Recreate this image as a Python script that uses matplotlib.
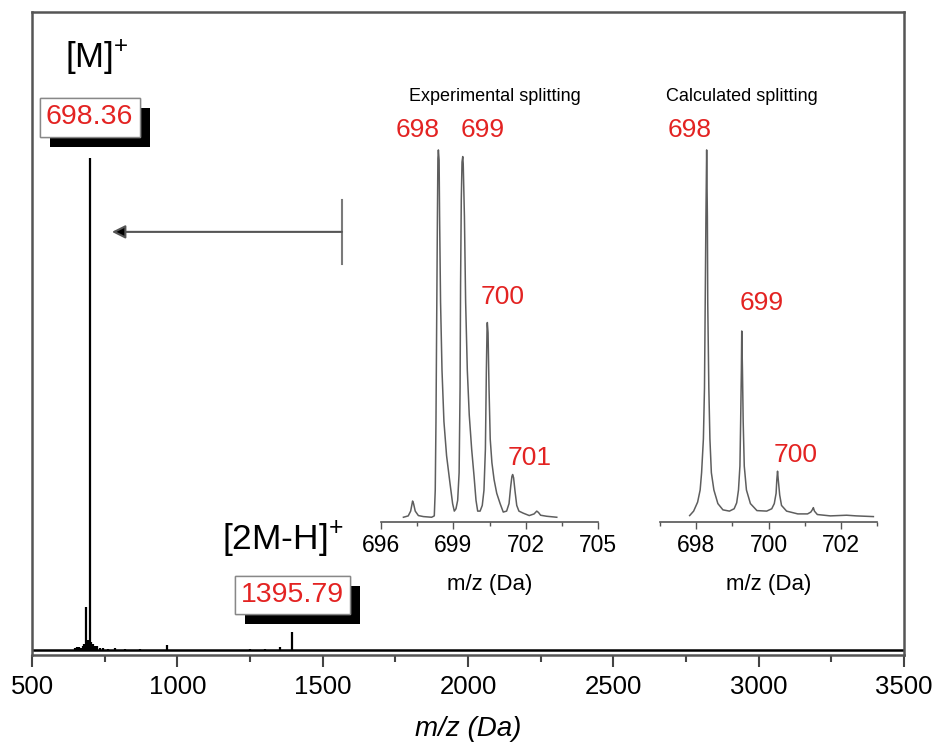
import matplotlib
matplotlib.use("Agg")
import matplotlib.pyplot as plt
import matplotlib.patheffects as pe
from matplotlib.ticker import MultipleLocator

plt.rcParams['font.family'] = ['Liberation Sans', 'DejaVu Sans']
plt.rcParams['mathtext.fontset'] = 'custom'
plt.rcParams['mathtext.rm'] = 'Liberation Sans'
plt.rcParams['mathtext.it'] = 'Liberation Sans:italic'

RED = '#e32322'
GREY = '#5e5e5e'

# full MALDI spectrum, stick peaks (m/z, relative intensity)
full_mz = [648, 654, 662, 668, 674, 680, 686, 692, 698.36, 704, 711, 716, 722,
           733, 745, 760, 786, 820, 870, 963, 1250, 1300, 1353, 1395.79]
full_int = [0.4, 0.7, 0.6, 0.5, 0.9, 1.3, 8.7, 2.0, 100, 1.6, 1.2, 0.9, 0.8,
            0.5, 0.4, 0.3, 0.5, 0.3, 0.2, 1.0, 0.2, 0.3, 0.6, 3.7]

# experimental isotope splitting (profile)
exp_mz = [696.93, 697.13, 697.23, 697.29, 697.31, 697.35, 697.42, 697.55, 697.76,
          698.10, 698.21, 698.25, 698.28, 698.31, 698.34, 698.36, 698.38, 698.41,
          698.43, 698.47, 698.53, 698.61, 698.72, 698.86, 698.97, 699.04, 699.11,
          699.18, 699.24, 699.28, 699.30, 699.33, 699.36, 699.39, 699.41, 699.46,
          699.51, 699.58, 699.66, 699.76, 699.86, 699.94, 700.01, 700.11, 700.20,
          700.27, 700.33, 700.37, 700.40, 700.41, 700.44, 700.48, 700.53, 700.60,
          700.69, 700.80, 700.94, 701.07, 701.21, 701.31, 701.38, 701.43, 701.46,
          701.50, 701.56, 701.63, 701.72, 701.90, 702.15, 702.35, 702.46, 702.53,
          702.62, 702.87, 703.29]
exp_int = [0.19, 0.56, 1.86, 3.9, 4.6, 3.9, 1.86, 0.65, 0.37,
           0.19, 0.56, 7.6, 26.2, 54.1, 82.0, 97.7, 100, 97.2,
           81.9, 58.7, 40.1, 26.2, 16.9, 9.5, 3.9, 1.86, 2.5,
           4.8, 12.3, 35.5, 63.3, 86.5, 96.7, 98.2, 96.3, 81.9,
           58.7, 40.1, 28.0, 18.7, 11.3, 4.8, 1.86, 1.86, 3.4,
           7.5, 18.7, 40.1, 52.2, 53.1, 50.3, 35.3, 21.4, 15.0,
           10.4, 6.7, 3.9, 1.6, 1.86, 3.9, 8.6, 11.3, 11.8,
           10.9, 7.2, 3.4, 1.86, 1.3, 0.65, 1.1, 1.86, 1.5,
           0.74, 0.46, 0.19]
exp_labels = ['698', '699', '700', '701']
exp_label_x = [697.53, 700.23, 701.06, 702.18]
exp_label_y = [105.4, 105.4, 60.0, 16.3]

# calculated isotope splitting
calc_mz = [697.82, 697.93, 698.04, 698.11, 698.15, 698.20, 698.23, 698.25, 698.27,
           698.29, 698.31, 698.32, 698.35, 698.38, 698.42, 698.49, 698.60, 698.74,
           698.92, 699.05, 699.12, 699.17, 699.21, 699.23, 699.25, 699.26, 699.28,
           699.30, 699.33, 699.39, 699.50, 699.68, 699.95, 700.09, 700.16, 700.21,
           700.23, 700.25, 700.27, 700.31, 700.36, 700.50, 700.81, 701.08, 701.17,
           701.23, 701.24, 701.27, 701.35, 701.71, 702.16, 702.43, 702.90]
calc_int = [0.65, 1.86, 4.3, 7.6, 12.3, 21.5, 35.3, 58.5, 81.9,
            100, 81.9, 58.5, 35.3, 21.5, 12.3, 7.6, 3.9, 2.2,
            1.86, 2.5, 4.1, 7.6, 14.1, 26.2, 40.1, 50.8, 40.1,
            26.2, 14.1, 7.6, 3.9, 2.0, 1.86, 2.5, 3.9, 6.7,
            10.4, 12.7, 10.4, 6.2, 3.4, 1.86, 1.1, 1.1, 1.6,
            2.5, 2.8, 1.86, 0.93, 0.56, 0.74, 0.56, 0.37]
calc_labels = ['698', '699', '700']
calc_label_x = [697.83, 699.82, 700.76]
calc_label_y = [105.4, 58.4, 17.1]

W, H = 936, 755


def frame(x0, y0, x1, y1):
    # pixel box (top-left origin) -> figure fraction rect
    return [x0 / W, 1 - y1 / H, (x1 - x0) / W, (y1 - y0) / H]


fig = plt.figure(figsize=(W / 100, H / 100), dpi=100)

# ---- main spectrum ----
ax = fig.add_axes(frame(32, 12, 904, 655))
ax.vlines(full_mz, 0, full_int, color='k', lw=1.6)
ax.axhline(0, color='k', lw=1.8)
ax.set_xlim(500, 3500)
ax.set_ylim(-1.02, 129.7)
ax.set_yticks([])
ax.xaxis.set_major_locator(MultipleLocator(500))
ax.xaxis.set_minor_locator(MultipleLocator(250))
ax.tick_params(axis='x', which='major', direction='out', length=8.6, width=1.5,
               labelsize=18.5, pad=6, color='#444444')
ax.tick_params(axis='x', which='minor', direction='out', length=5, width=1.5,
               color='#444444')
for s in ax.spines.values():
    s.set_color('#555555')
    s.set_linewidth(1.8)
ax.set_xlabel('m/z (Da)', fontsize=20, style='italic', labelpad=12)

# ion labels
ax.text(613, 118.3, r'[M]$^{+}$', fontsize=25, ha='left', va='baseline')
ax.text(1154, 20.3, r'[2M-H]$^{+}$', fontsize=25.5, ha='left', va='baseline')

shadow = [pe.withSimplePatchShadow(offset=(7.2, -7.2), shadow_rgbFace='k', alpha=1),
          pe.Normal()]
for mz, y in [(full_mz[8], 108.3), (full_mz[-1], 11.2)]:
    t = ax.text(mz, y, f'{mz:.2f}', color=RED, fontsize=20.5, ha='center',
                va='center',
                bbox=dict(boxstyle='square,pad=0.22', fc='white', ec='#888888', lw=1))
    t.get_bbox_patch().set_path_effects(shadow)

# arrow from the insets back to the molecular ion
ax.annotate('', xy=(775, 85), xytext=(1566, 85),
            arrowprops=dict(arrowstyle='-|>', fc='k', ec='#555555', lw=1.5,
                            mutation_scale=20, shrinkA=0, shrinkB=0))
ax.plot([1566, 1566], [78.5, 91.5], color='#7a7a7a', lw=1.5)


# ---- insets ----
def inset(rect, mz, inten, xlim, major, minor, labels, lx, ly, title, tx):
    a = fig.add_axes(rect)
    a.patch.set_alpha(0)
    a.plot(mz, inten, color=GREY, lw=1.1)
    a.set_xlim(*xlim)
    a.set_ylim(-1.1, 102.7)
    a.set_yticks([])
    for side in ['left', 'right', 'top']:
        a.spines[side].set_visible(False)
    a.spines['bottom'].set_color('#555555')
    a.spines['bottom'].set_linewidth(1.2)
    a.xaxis.set_major_locator(MultipleLocator(major))
    a.xaxis.set_minor_locator(MultipleLocator(minor))
    a.tick_params(axis='x', which='major', direction='out', length=5, width=1,
                  labelsize=16.5, pad=4, color='#555555')
    a.tick_params(axis='x', which='minor', direction='out', length=3, width=1,
                  color='#555555')
    a.set_xlabel('m/z (Da)', fontsize=16, labelpad=12)
    for lab, x, y in zip(labels, lx, ly):
        a.text(x, y, lab, color=RED, fontsize=19, ha='center', va='center')
    a.text(tx, 1.113, title, fontsize=13, ha='center', va='center',
           transform=a.transAxes)
    return a


inset(frame(381, 140, 598, 522), exp_mz, exp_int, (696, 705), 3, 1.5,
      exp_labels, exp_label_x, exp_label_y, 'Experimental splitting', 0.525)
inset(frame(660, 140, 877, 522), calc_mz, calc_int, (697, 703), 2, 1,
      calc_labels, calc_label_x, calc_label_y, 'Calculated splitting', 0.378)

fig.savefig('out.png', dpi=100)
